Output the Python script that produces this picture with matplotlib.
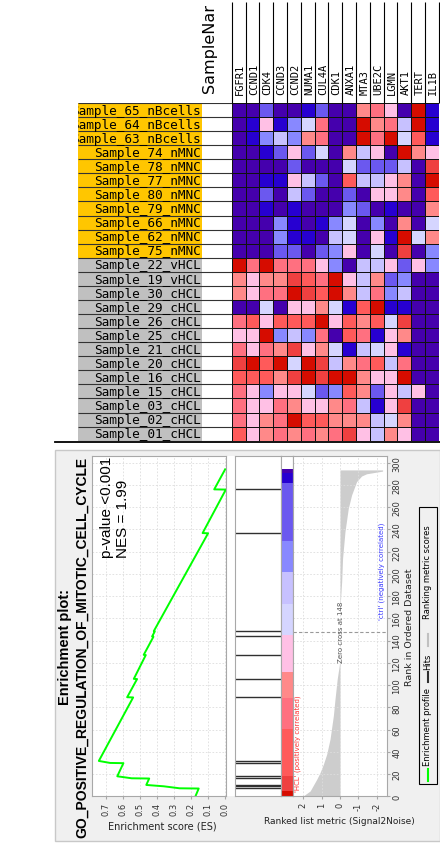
import matplotlib
matplotlib.use("Agg")
import matplotlib.pyplot as plt
from matplotlib.colors import ListedColormap
from matplotlib.patches import Rectangle
import numpy as np

# ---- heatmap data ----
genes = ["FGFR1", "CCND1", "CDK4", "CCND3", "CCND2", "NUMA1", "CUL4A", "CDK1",
         "ANXA1", "MTA3", "UBE2C", "LGMN", "AKT1", "TERT", "IL1B"]
samples = ["Sample_65_nBcells", "Sample_64_nBcells", "Sample_63_nBcells",
           "Sample_74_nMNC", "Sample_78_nMNC", "Sample_77_nMNC", "Sample_80_nMNC",
           "Sample_79_nMNC", "Sample_66_nMNC", "Sample_62_nMNC", "Sample_75_nMNC",
           "Sample_22_vHCL", "Sample_19_vHCL", "Sample_30_cHCL", "Sample_29_cHCL",
           "Sample_26_cHCL", "Sample_25_cHCL", "Sample_21_cHCL", "Sample_20_cHCL",
           "Sample_16_cHCL", "Sample_15_cHCL", "Sample_03_cHCL", "Sample_02_cHCL",
           "Sample_01_cHCL"]
# colour level of every cell, A = deep blue ... L = deep red
heat_rows = [
    "AACAABCAAHIGALB", "ABGBDFIAALHIELB", "ABDEDHIAALILFJB", "AABCGCFAHEGALHG",
    "AAAACAAAFCCCEAK", "AABBGECAJEEGHAL", "AACAECAACAGGHAJ", "AABABAAADCABAAH",
    "AAADBABDFADAHAF", "AAADBBAEFAGBLFH", "AAACCACDGAFAKAD", "LILIIIGDAEEGCGD",
    "HGHHKJILGEHCDAA", "HGIILKJLHEIDEAA", "AAFAGGHFBJLBBAA", "IJGJJJLGJHJFKAA",
    "GGLDEDIAJIBGHAA", "IGIHKGHFBEFGBAA", "KLJLFLKEHIJEIAA", "JJJHKLKLLHGGLAA",
    "IGDGGFCDJHCGEGA", "IGGIHGGHIEBGKAA", "IGHILJJHHHEFHAA", "JGHIHIHIKGEHGAA",
]
level_codes = "ABCDEFGHIJKL"
palette = ["#4500AD", "#2700D1", "#6B58EF", "#8888FF", "#C7C1FF", "#D5D5FF",
           "#FFC0E5", "#FF8989", "#FF7080", "#FF5A5A", "#EF4040", "#D60C00"]

# ---- enrichment plot data ----
es_rank = [0, 7.0, 7.2, 9.0, 10.2, 16.0, 16.2, 18.0, 29.8, 30.0, 31.8, 88.9, 89.1,
           105.4, 105.6, 127.0, 127.2, 143.5, 143.7, 148.3, 148.5, 236.5, 236.7,
           275.8, 276.0, 294]
es_score = [0.174, 0.155, 0.267, 0.360, 0.462, 0.445, 0.548, 0.632, 0.596, 0.674,
            0.740, 0.539, 0.574, 0.516, 0.535, 0.465, 0.477, 0.420, 0.428, 0.412,
            0.418, 0.100, 0.132, -0.004, 0.064, 0.0]
hit_ranks = [7.2, 9.0, 10.2, 16.2, 18.0, 30.0, 31.8, 89.1, 105.6, 127.2, 143.7,
             148.5, 236.7, 276.0]
metric_rank = [0, 4.8, 15.4, 21.4, 28.9, 38, 51.5, 72.5, 87.6, 105.7, 117.7, 123,
               148, 172, 193, 214, 238, 259, 271, 283, 288, 290, 292.4, 293.5]
metric_value = [2.02, 1.62, 1.26, 1.08, 0.90, 0.72, 0.54, 0.36, 0.27, 0.15, 0.04,
                0.01, 0.0, -0.01, -0.09, -0.14, -0.27, -0.45, -0.63, -0.90, -1.17,
                -1.44, -2.31, -2.31]
band_edges = [0, 4.8, 18.4, 60.5, 88, 112, 145, 173, 202, 230, 282, 291, 294]
band_colors = ["#D60C00", "#EF4040", "#FF5A5A", "#FF7080", "#FF8989", "#FFC0E5",
               "#D5D5FF", "#C7C1FF", "#8888FF", "#6B58EF", "#2700D1", "#4500AD"]
zero_cross = 148
es_ticks = [0.0, 0.1, 0.2, 0.3, 0.4, 0.5, 0.6, 0.7]
metric_ticks = [2, 1, 0, -1, -2]
rank_ticks = list(range(0, 301, 20))

plt.rcParams["axes.unicode_minus"] = False

W, H = 440, 853
fig = plt.figure(figsize=(W / 100, H / 100), dpi=100)


def rect(x0, y0, x1, y1):
    return [x0 / W, 1 - y1 / H, (x1 - x0) / W, (y1 - y0) / H]


canvas = fig.add_axes([0, 0, 1, 1])
canvas.set_xlim(0, W)
canvas.set_ylim(H, 0)
canvas.axis("off")

# ---- heatmap ----
levels = np.array([[level_codes.index(c) for c in row] for row in heat_rows])
ax_hm = fig.add_axes(rect(231.7, 104, 438.7, 441.7))
ax_hm.pcolormesh(levels, cmap=ListedColormap(palette), vmin=-0.5, vmax=11.5,
                 edgecolors="#111111", linewidth=0.7)
ax_hm.set_xlim(0, len(genes))
ax_hm.set_ylim(len(samples), 0)
ax_hm.axis("off")
ax_hm.vlines(np.arange(len(genes) + 1), -7.2, 0, color="black", lw=0.8, clip_on=False)
for j, g in enumerate(genes):
    ax_hm.text(j + 0.6, -0.65, g, rotation=90, rotation_mode="anchor", ha="left",
               va="center", family="DejaVu Sans Mono", fontsize=7.5, clip_on=False)

canvas.text(210, 93, "SampleNar", rotation=90, rotation_mode="anchor", ha="left",
            va="center", fontsize=11.5)

ax_lab = fig.add_axes(rect(78, 104, 231.7, 441.7))
ax_lab.set_xlim(78, 231.7)
ax_lab.set_ylim(len(samples), 0)
ax_lab.axis("off")
for i, s in enumerate(samples):
    col = "#C0C0C0" if "HCL" in s else "#FFC600"
    ax_lab.add_patch(Rectangle((78, i), 124, 1, facecolor=col, lw=0))
ax_lab.hlines(np.arange(len(samples) + 1), 78, 231.7, color="#333333", lw=0.8)
for i, s in enumerate(samples):
    ax_lab.text(200.5, i + 0.76, s, ha="right", va="baseline", family="DejaVu Sans Mono",
                fontsize=9.2, clip_on=True, zorder=5)
canvas.plot([55, 440], [442.5, 442.5], color="black", lw=1.3)

# ---- enrichment panel ----
canvas.add_patch(Rectangle((55, 451), 385, 391, facecolor="#F0F0F0",
                           edgecolor="#C8C8C8", lw=1))
canvas.add_patch(Rectangle((92, 457), 295, 340, facecolor="white", lw=0))

canvas.text(65, 647, "Enrichment plot:", rotation=90, ha="center", va="center",
            fontsize=10.5, weight="bold", family="Liberation Sans")
canvas.text(82, 647, "GO_POSITIVE_REGULATION_OF_MITOTIC_CELL_CYCLE", rotation=90,
            ha="center", va="center", fontsize=10, weight="bold",
            family="Liberation Sans")

grid_style = dict(ls=(0, (2, 2)), color="#DDDDDD", lw=0.6)
spine_col = "#A8A8A8"

ax_es = fig.add_axes(rect(92, 457, 226, 797.3))
ax_es.plot(es_score, es_rank, color="#00FF00", lw=1.4)
ax_es.set_xlim(0.78, -0.005)
ax_es.set_ylim(0, 306)
ax_es.set_xticks(es_ticks)
ax_es.set_xticklabels([f"{t:.1f}" for t in es_ticks], rotation=90, fontsize=6,
                      color="#333333")
ax_es.set_yticks(rank_ticks)
ax_es.tick_params(axis="y", labelleft=False, length=0)
ax_es.tick_params(axis="x", length=2, pad=2, color=spine_col)
ax_es.grid(True, **grid_style)
for sp in ax_es.spines.values():
    sp.set_color(spine_col)
ax_es.text(0.694, 215.4, "p-value <0.001", rotation=90, rotation_mode="anchor",
           ha="left", va="center", fontsize=11, family="Liberation Sans", clip_on=False)
ax_es.text(0.599, 215.4, "NES = 1.99", rotation=90, rotation_mode="anchor",
           ha="left", va="center", fontsize=11, family="Liberation Sans", clip_on=False)

ax_hit = fig.add_axes(rect(235, 457, 281, 797.3))
ax_hit.hlines(hit_ranks, 0, 1, color="#303030", lw=1.0)
ax_hit.set_xlim(0, 1)
ax_hit.set_ylim(0, 306)
ax_hit.set_xticks([])
ax_hit.set_yticks([])
for sp in ax_hit.spines.values():
    sp.set_color(spine_col)

ax_band = fig.add_axes(rect(281, 457, 293, 797.3))
for lo, hi, c in zip(band_edges[:-1], band_edges[1:], band_colors):
    ax_band.axhspan(lo, hi, color=c, lw=0)
ax_band.set_ylim(0, 306)
ax_band.set_xticks([])
ax_band.set_yticks([])
for sp in ax_band.spines.values():
    sp.set_color(spine_col)

ax_m = fig.add_axes(rect(293, 457, 387, 797.3))
ax_m.fill_betweenx(metric_rank, 0, metric_value, color="#CDCDCD", lw=0)
ax_m.set_xlim(2.55, -2.55)
ax_m.set_ylim(0, 306)
ax_m.set_xticks(metric_ticks)
ax_m.set_xticklabels([str(t) for t in metric_ticks], rotation=90, fontsize=6,
                     color="#333333")
ax_m.set_yticks(rank_ticks)
ax_m.yaxis.tick_right()
ax_m.set_yticklabels([str(t) for t in rank_ticks], rotation=90, fontsize=6,
                     color="#333333", va="center")
ax_m.tick_params(length=2, pad=2, color=spine_col)
ax_m.grid(True, **grid_style)
ax_m.axhline(zero_cross, color="#999999", ls=(0, (3, 2)), lw=0.8)
for sp in ax_m.spines.values():
    sp.set_color(spine_col)
ax_m.text(-0.07, zero_cross, f"Zero cross at {zero_cross}", rotation=90, ha="center",
          va="center", fontsize=5, color="#555555")
ax_m.text(2.27, 5, "'HCL' (positively correlated)", rotation=90, rotation_mode="anchor",
          ha="left", va="center", fontsize=5, color="#FF3030")
ax_m.text(-2.27, 247, "'ctrl' (negatively correlated)", rotation=90,
          rotation_mode="anchor", ha="right", va="center", fontsize=5, color="#3A3AFF")

canvas.text(162, 827, "Enrichment score (ES)", ha="center", va="center", fontsize=7,
            color="#222222")
canvas.text(339, 822, "Ranked list metric (Signal2Noise)", ha="center", va="center",
            fontsize=6.5, color="#222222")
canvas.text(409, 627, "Rank in Ordered Dataset", rotation=90, ha="center",
            va="center", fontsize=6.8, color="#222222")

# legend (drawn by hand, rotated like the rest of the panel)
canvas.add_patch(Rectangle((419, 508), 18, 277, fill=False, edgecolor="black", lw=0.8))
legend_items = [("Enrichment profile", "#00FF00", 782, 770, 766),
                ("Hits", "#303030", 683, 673, 670),
                ("Ranking metric scores", "#C0C0C0", 647, 635, 619)]
for label, col, ya, yb, yt in legend_items:
    canvas.plot([428, 428], [ya, yb], color=col, lw=1.5)
    canvas.text(428, yt, label, rotation=90, rotation_mode="anchor", ha="left",
                va="center", fontsize=6)

fig.savefig("out.png", dpi=100)
